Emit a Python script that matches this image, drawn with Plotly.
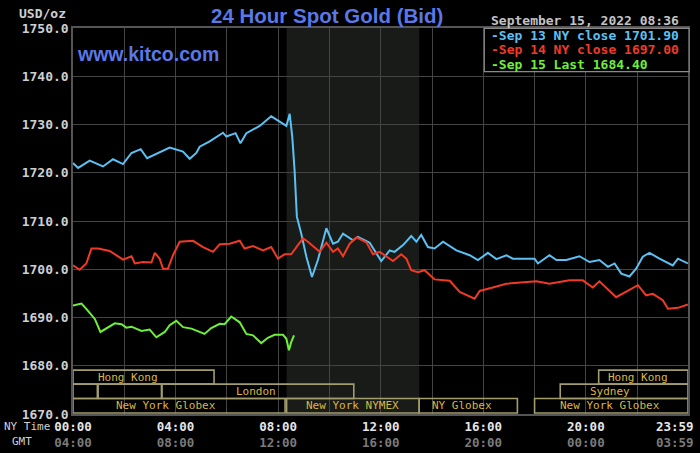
import plotly.graph_objs as go

# hours since 00:00 NY time, price in USD/oz
sep13_t = [0, 0.2, 0.65, 1.17, 1.56, 1.95, 2.28, 2.64, 2.89, 3.38,
           3.77, 4.29, 4.55, 4.81, 4.94, 5.33, 5.85, 5.98, 6.34, 6.53,
           6.76, 7.28, 7.73, 8.06, 8.32, 8.45, 8.55, 8.64, 8.73, 8.9,
           9.1, 9.32, 9.55, 9.88, 10.14, 10.33, 10.53, 10.92, 11.11, 11.57,
           11.76, 12.02, 12.35, 12.54, 12.87, 13.19, 13.39, 13.58, 13.84, 14.1,
           14.43, 14.95, 15.47, 15.79, 16.18, 16.51, 16.9, 17.15, 18.0, 18.13,
           18.58, 18.85, 19.24, 19.75, 20.14, 20.53, 20.86, 21.12, 21.38, 21.7,
           21.96, 22.22, 22.48, 22.87, 23.39, 23.59, 23.98]
sep13_p = [1722.0, 1721.0, 1722.5, 1721.3, 1722.8, 1721.8, 1724.1, 1724.9, 1723.0, 1724.2,
           1725.2, 1724.4, 1722.9, 1724.1, 1725.4, 1726.5, 1728.3, 1727.5, 1728.2, 1726.1,
           1728.2, 1729.7, 1731.7, 1730.6, 1729.7, 1732.2, 1727.5, 1720.6, 1710.9, 1707.4,
           1702.6, 1698.4, 1701.9, 1708.5, 1705.3, 1705.7, 1707.4, 1706.0, 1706.7, 1705.5,
           1703.9, 1701.7, 1703.9, 1703.6, 1705.0, 1706.9, 1705.7, 1707.1, 1704.6, 1704.3,
           1705.7, 1703.9, 1702.9, 1701.9, 1703.4, 1702.1, 1702.9, 1702.2, 1702.2, 1701.2,
           1702.9, 1701.9, 1701.9, 1702.7, 1701.5, 1701.9, 1700.5, 1701.2, 1699.1, 1698.5,
           1700.1, 1702.6, 1703.4, 1702.2, 1700.8, 1702.2, 1701.2]

sep14_t = [0, 0.26, 0.52, 0.72, 0.98, 1.43, 1.95, 2.28, 2.41, 2.73,
           3.06, 3.19, 3.38, 3.51, 3.7, 3.9, 4.16, 4.68, 5.07, 5.46,
           5.72, 6.11, 6.5, 6.69, 7.02, 7.41, 7.73, 7.99, 8.25, 8.51,
           8.77, 8.97, 9.16, 9.62, 9.88, 10.14, 10.33, 10.53, 10.79, 11.05,
           11.44, 11.7, 11.96, 12.22, 12.48, 12.8, 13.0, 13.19, 13.45, 13.71,
           14.1, 14.69, 15.08, 15.66, 15.86, 16.37, 16.9, 18.07, 18.58, 19.36,
           19.88, 20.27, 20.53, 21.18, 21.57, 22.03, 22.35, 22.61, 23.0, 23.2,
           23.59, 23.98]
sep14_p = [1700.8, 1699.9, 1701.2, 1704.3, 1704.3, 1703.8, 1702.0, 1702.7, 1701.2, 1701.5,
           1701.4, 1703.4, 1702.2, 1700.1, 1700.1, 1702.9, 1705.7, 1705.9, 1704.6, 1703.6,
           1705.2, 1705.3, 1705.9, 1704.3, 1704.8, 1703.9, 1704.6, 1702.2, 1703.1, 1703.1,
           1705.0, 1706.4, 1705.7, 1703.6, 1705.5, 1703.6, 1704.3, 1702.7, 1705.3, 1706.6,
           1705.6, 1703.1, 1703.6, 1702.6, 1701.7, 1703.1, 1702.2, 1699.8, 1699.4, 1699.8,
           1697.9, 1697.6, 1695.3, 1693.9, 1695.5, 1696.2, 1697.0, 1697.5, 1697.0, 1697.7,
           1697.7, 1696.2, 1697.5, 1694.2, 1695.3, 1696.7, 1694.6, 1694.9, 1693.6, 1691.8,
           1692.0, 1692.7]

sep15_t = [0, 0.33, 0.52, 0.85, 1.07, 1.3, 1.63, 1.89, 2.08, 2.28,
           2.67, 2.99, 3.25, 3.58, 3.77, 4.03, 4.29, 4.62, 4.94, 5.13,
           5.39, 5.72, 5.91, 6.17, 6.5, 6.76, 7.02, 7.34, 7.6, 7.86,
           8.19, 8.32, 8.42, 8.51, 8.62]
sep15_p = [1692.5, 1692.9, 1691.8, 1689.7, 1687.0, 1687.7, 1688.8, 1688.6, 1687.9, 1688.1,
           1687.2, 1687.5, 1685.9, 1687.0, 1688.4, 1689.3, 1688.0, 1687.7, 1687.0, 1686.6,
           1687.8, 1688.7, 1688.6, 1690.2, 1689.0, 1686.6, 1686.3, 1684.7, 1685.8, 1686.4,
           1686.4, 1685.6, 1683.2, 1684.9, 1686.3]

legend_text = ['-Sep 13 NY close 1701.90', '-Sep 14 NY close 1697.00', '-Sep 15 Last 1684.40']

# trading sessions (row 1 = top)
sess_name = ['Hong Kong', '', '', 'London', 'New York Globex', 'New York NYMEX',
             'NY Globex', 'New York Globex', 'Sydney', 'Hong Kong']
sess_start = [0, 0, 0.98, 3.47, 0, 8.33, 13.5, 18.0, 19.0, 20.5]
sess_end = [5.5, 0.95, 3.45, 10.95, 8.27, 13.5, 17.33, 23.983, 23.983, 23.983]
sess_row = [1, 2, 2, 2, 3, 3, 3, 3, 2, 1]
sess_label_at = [2.13, 0, 0, 7.15, 3.64, 10.9, 15.18, 20.96, 20.96, 22.03]

nymex_open, nymex_close = 8.33, 13.5

ny_ticks = [0, 2, 4, 6, 8, 10, 12, 14, 16, 18, 20, 22]
ny_labels = ['00:00', '', '04:00', '', '08:00', '', '12:00', '', '16:00', '', '20:00', '']
gmt_labels = ['04:00', '', '08:00', '', '12:00', '', '16:00', '', '20:00', '', '00:00', '']

BLUE = '#5cc0f2'
RED = '#f03a26'
GREEN = '#6df03a'
MONO = 'DejaVu Sans Mono'


def px(x):
    return (x - 73) / 615.0


def py(y):
    return (414 - y) / 386.0


fig = go.Figure()
for t, p, c in [(sep13_t, sep13_p, BLUE), (sep14_t, sep14_p, RED), (sep15_t, sep15_p, GREEN)]:
    fig.add_trace(go.Scatter(x=t, y=p, mode='lines', line=dict(color=c, width=2),
                             hoverinfo='skip'))

ticktext = []
for a, b in zip(ny_labels, gmt_labels):
    if a:
        ticktext.append(a + "<br><span style='color:#7a7a7a'>" + b + "</span>")
    else:
        ticktext.append('')

shapes = [dict(type='rect', xref='x', yref='y', x0=nymex_open, x1=nymex_close,
               y0=1670, y1=1750, fillcolor='#181b18', line=dict(width=0), layer='below')]

row_y = {1: (1676.2, 1679.1), 2: (1673.2, 1676.2), 3: (1670.2, 1673.2)}
annotations = []
for name, s, e, r, lx in zip(sess_name, sess_start, sess_end, sess_row, sess_label_at):
    y0, y1 = row_y[r]
    shapes.append(dict(type='rect', xref='x', yref='y', x0=s, x1=e, y0=y0, y1=y1,
                       line=dict(color='#a39c6c', width=1.6), fillcolor='rgba(0,0,0,0)',
                       layer='above'))
    if name:
        annotations.append(dict(x=lx, y=(y0 + y1) / 2, xref='x', yref='y', text=name,
                                showarrow=False, font=dict(family=MONO, size=11, color='#d8b840')))

# legend box
shapes.append(dict(type='rect', xref='paper', yref='paper', x0=px(484.3), x1=px(689),
                   y0=py(71.7), y1=py(28.3), fillcolor='#000000',
                   line=dict(color='#8a8a8a', width=1.2), layer='above'))
for txt, c, yy in zip(legend_text, [BLUE, RED, GREEN], [36, 50, 64]):
    annotations.append(dict(x=px(489), y=py(yy), xref='paper', yref='paper', text=txt,
                            xanchor='left', yanchor='middle', showarrow=False,
                            font=dict(family=MONO, size=13, color=c, weight='bold')))

annotations += [
    dict(x=px(326.5), y=py(16), xref='paper', yref='paper', text='24 Hour Spot Gold (Bid)',
         xanchor='center', yanchor='middle', showarrow=False,
         font=dict(family='Liberation Sans', size=20.5, color='#5a78e6', weight='bold')),
    dict(x=px(74.5), y=py(53.5), xref='paper', yref='paper', text='www.kitco.com',
         xanchor='left', yanchor='middle', showarrow=False,
         font=dict(family='Liberation Sans', size=19.5, color='#5a78e6', weight='bold')),
    dict(x=px(489), y=py(21), xref='paper', yref='paper', text='September 15, 2022 08:36',
         xanchor='left', yanchor='middle', showarrow=False,
         font=dict(family=MONO, size=13, color='#c4c4c4', weight='bold')),
    dict(x=px(68), y=py(13.8), xref='paper', yref='paper', text='USD/oz',
         xanchor='right', yanchor='middle', showarrow=False,
         font=dict(family=MONO, size=13, color='#cfcfcf', weight='bold')),
    dict(x=px(2), y=py(426), xref='paper', yref='paper', text='NY Time',
         xanchor='left', yanchor='middle', showarrow=False,
         font=dict(family=MONO, size=11, color='#d0d0d0')),
    dict(x=px(10), y=py(441), xref='paper', yref='paper', text='GMT',
         xanchor='left', yanchor='middle', showarrow=False,
         font=dict(family=MONO, size=11, color='#d0d0d0')),
    dict(x=px(696), y=py(434), xref='paper', yref='paper', xanchor='right', yanchor='middle',
         text="23:59<br><span style='color:#7a7a7a'>03:59</span>", showarrow=False,
         font=dict(family=MONO, size=12.5, color='#e6e6e6', weight='bold')),
]

fig.update_layout(
    width=700, height=453,
    margin=dict(l=73, r=12, t=28, b=39),
    paper_bgcolor='#000000', plot_bgcolor='#000000',
    showlegend=False,
    shapes=shapes, annotations=annotations,
    xaxis=dict(range=[0, 23.983], tickvals=ny_ticks, ticktext=ticktext, ticks='',
               automargin=False,
               showgrid=True, gridcolor='#444444', gridwidth=1, zeroline=False,
               showline=True, mirror=True, linecolor='#555555', linewidth=1.5,
               tickfont=dict(family=MONO, size=12.5, color='#e6e6e6', weight='bold')),
    yaxis=dict(range=[1670, 1750], dtick=10, tickformat='.1f', ticks='', automargin=False,
               showgrid=True, gridcolor='#444444', gridwidth=1, zeroline=False,
               showline=True, mirror=True, linecolor='#555555', linewidth=1.5,
               tickfont=dict(family=MONO, size=13, color='#cfcfcf', weight='bold')),
)

# drop the page's default 8px body margin so the chart sits at the window corner
fig.write_html('out.html', config={'displayModeBar': False},
               post_script="document.body.style.margin='0';")
